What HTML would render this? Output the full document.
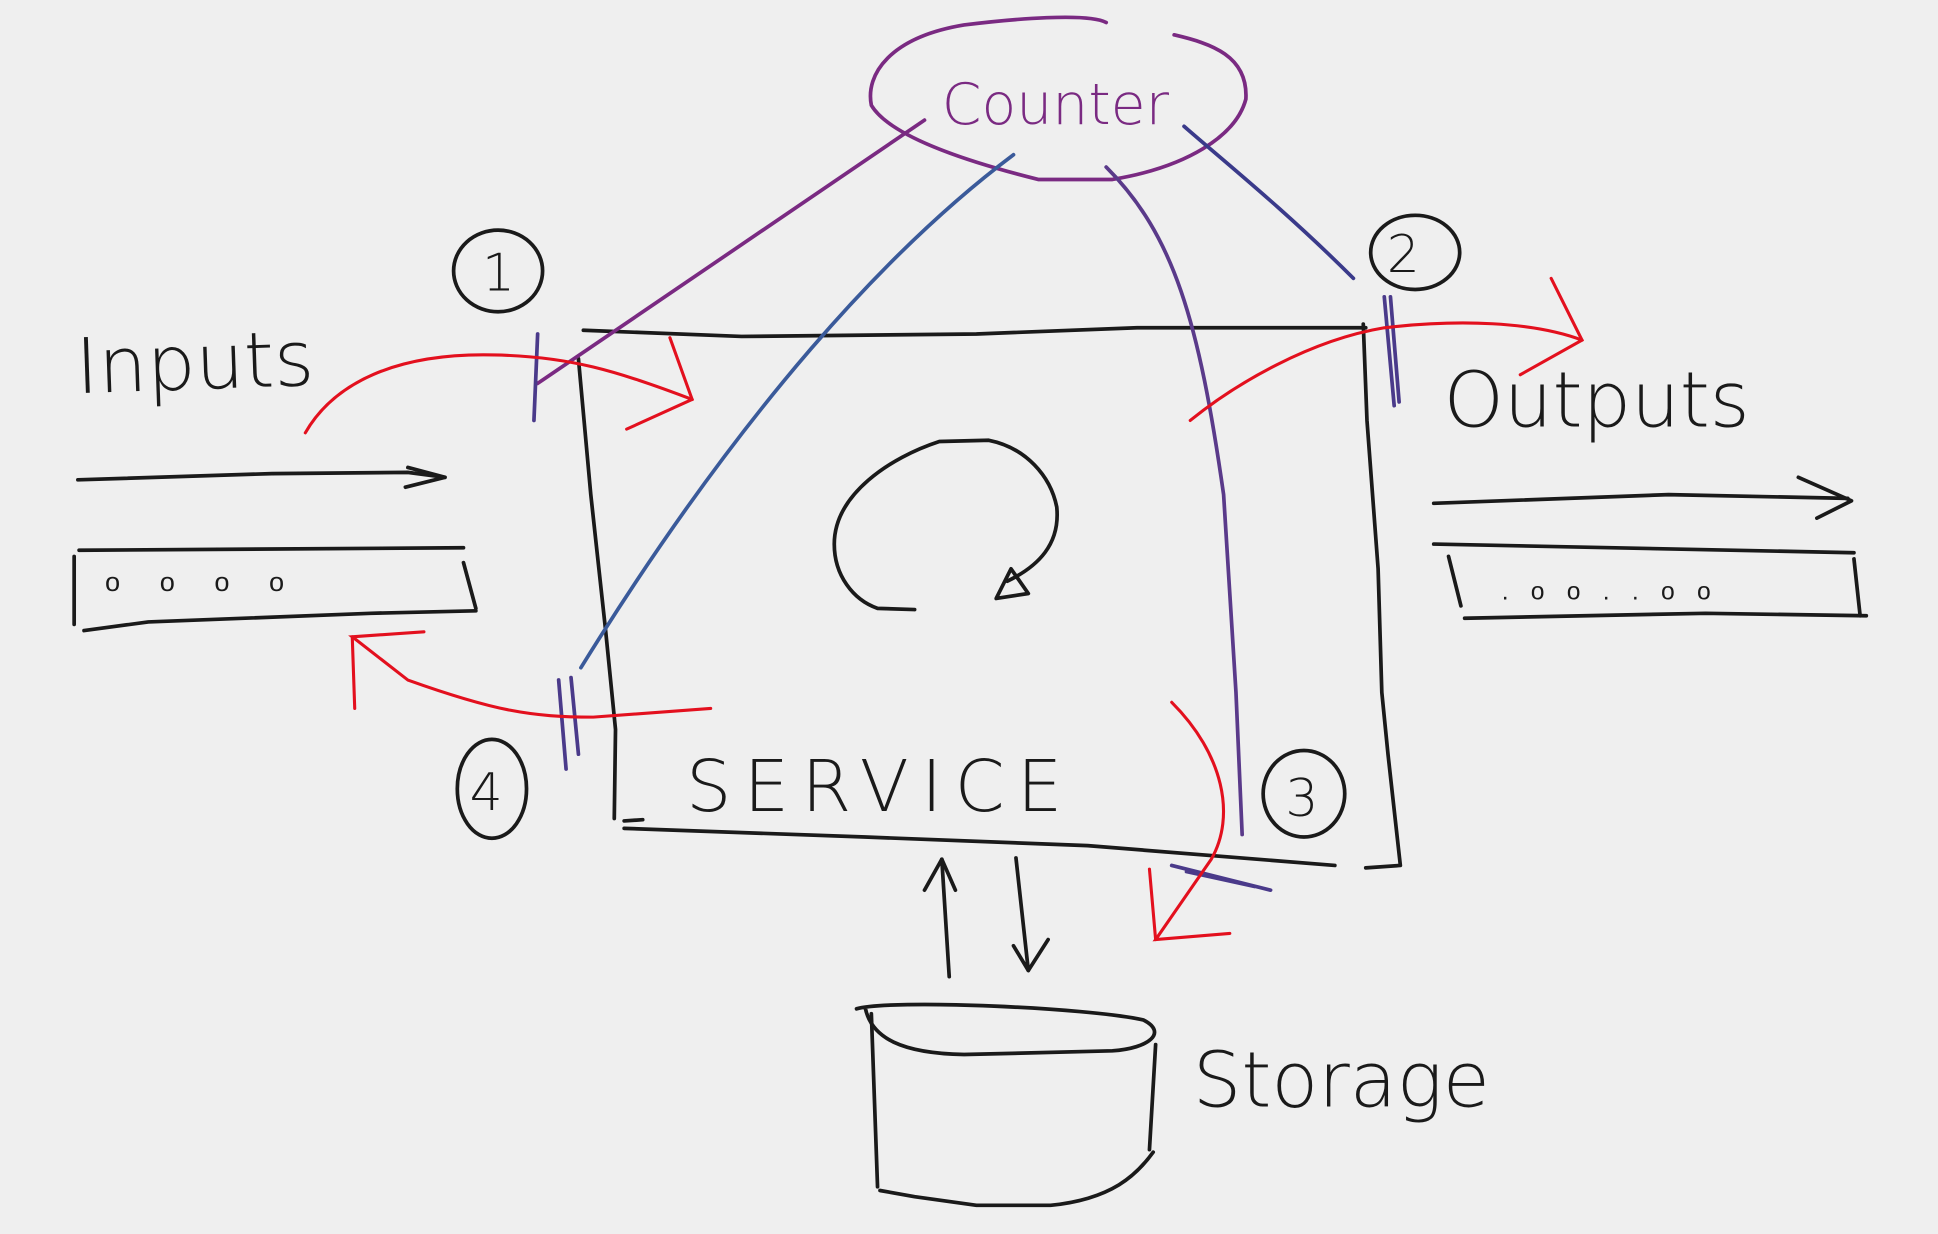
<!DOCTYPE html>
<html><head><meta charset="utf-8"><style>
html,body{margin:0;padding:0;background:#efefef;}
svg{display:block}
text{font-family:"Liberation Sans",sans-serif;}
</style></head><body>
<svg width="1938" height="1234" viewBox="0 0 1568 998" xmlns="http://www.w3.org/2000/svg">
<rect width="1568" height="998" fill="#efefef"/>
<g fill="none" stroke="#1a1a1a" stroke-width="3" stroke-linecap="round" stroke-linejoin="round">
<!-- service box -->
<path d="M472 267 L600 272 L790 270 L920 265 L1105 265"/>
<path d="M468 290 L478 400 L490 510 L498 590 L497 662"/>
<path d="M505 670 L700 677 L880 684 L1080 700"/>
<path d="M1103 262 L1106 340 L1115 460 L1118 560 L1123 610 L1133 700 L1105 702"/>
<path d="M505 664 L520 663"/>
<!-- loop -->
<path d="M740 493 L710 492 C690 485 675 465 675 440 C675 400 720 370 760 357 L800 356 C830 362 850 385 855 410 C858 440 840 458 815 470"/>
<path d="M806 484 L818 460 L832 480 Z"/>
<!-- circles -->
<ellipse cx="403" cy="219" rx="36" ry="33"/>
<ellipse cx="1145" cy="204" rx="36" ry="30"/>
<ellipse cx="398" cy="638" rx="28" ry="40"/>
<ellipse cx="1055" cy="642" rx="33" ry="35"/>
<!-- inputs arrow/bar -->
<path d="M63 388 L220 383 L330 382 L360 386"/>
<path d="M330 378 L360 386 L328 394"/>
<path d="M64 445 L375 443"/><path d="M60 450 L60 505"/><path d="M375 455 L385 492"/>
<path d="M68 510 L120 503 L300 496 L385 494"/>
<!-- outputs arrow/bar -->
<path d="M1160 407 L1350 400 L1495 403"/>
<path d="M1455 386 L1498 405 L1470 419"/>
<path d="M1160 440 L1500 447"/><path d="M1172 450 L1182 490"/><path d="M1500 452 L1505 498"/>
<path d="M1185 500 L1380 496 L1510 498"/>
<!-- storage -->
<path d="M693 816 C720 808 880 815 925 825 C945 835 930 848 900 850 L780 853 C730 852 705 840 700 815"/>
<path d="M705 820 L710 960"/><path d="M935 845 L930 930"/>
<path d="M712 963 L740 968 L790 975 L850 975 C900 970 920 950 933 932"/>
<!-- storage arrows -->
<path d="M768 790 L762 695 L748 720"/><path d="M762 695 L773 720"/>
<path d="M822 694 L832 785 L820 765"/><path d="M832 785 L848 760"/>
</g>
<g fill="#1a1a1a" font-size="58" font-family="Liberation Sans, sans-serif">
<text x="62" y="318" font-size="62" font-weight="300" transform="rotate(-2 60 318)" style="font-family:'DejaVu Sans',sans-serif;font-weight:200">Inputs</text>
<text x="1168" y="345" font-size="62" style="font-family:'DejaVu Sans',sans-serif;font-weight:200">Outputs</text>
<text x="555" y="656" font-size="58" letter-spacing="10" style="font-family:'DejaVu Sans',sans-serif;font-weight:200">SERVICE</text>
<text x="965" y="895" font-size="62" style="font-family:'DejaVu Sans',sans-serif;font-weight:200">Storage</text>
<text x="390" y="235" font-size="42" style="font-family:'DejaVu Sans',sans-serif;font-weight:200">1</text>
<text x="1122" y="220" font-size="42" style="font-family:'DejaVu Sans',sans-serif;font-weight:200">2</text>
<text x="380" y="655" font-size="42" style="font-family:'DejaVu Sans',sans-serif;font-weight:200">4</text>
<text x="1040" y="660" font-size="42" style="font-family:'DejaVu Sans',sans-serif;font-weight:200">3</text>
<text x="85" y="478" font-size="22" letter-spacing="32">oooo</text>
<text x="1215" y="485" font-size="20" letter-spacing="18">.oo..oo</text>
</g>
<!-- counter -->
<g fill="none" stroke="#7a2a82" stroke-width="3" stroke-linecap="round">
<path d="M895 18 C880 10 820 15 780 20 C720 30 700 60 705 85 C720 110 780 130 840 145 L900 145 C960 135 1000 110 1008 80 C1010 45 980 35 950 28"/>
<path d="M748 97 L435 310"/>
<path d="M820 125 C720 200 600 330 470 540" stroke="#3a5a9a"/>
<path d="M895 135 C950 190 970 260 990 400 L1000 560 L1005 675" stroke="#5a3a8a"/>
<path d="M958 102 C990 130 1040 170 1095 225" stroke="#3a3a8a"/>
<path d="M435 270 L432 340 M1120 240 L1128 328 M1125 240 L1132 325 M452 550 L458 622 M462 548 L468 610 M948 700 L1028 720 M960 705 L1015 717" stroke="#4a3a8a"/>
</g>
<text x="762" y="100" fill="#7a2a82" font-size="46" style="font-family:'DejaVu Sans',sans-serif;font-weight:200">Counter</text>
<!-- red -->
<g fill="none" stroke="#e3101e" stroke-width="2.5" stroke-linecap="round">
<path d="M247 350 C270 310 320 285 400 287 C460 288 500 300 560 323"/>
<path d="M542 273 L560 323 L507 347"/>
<path d="M963 340 C1000 310 1060 275 1120 265 C1180 258 1240 260 1280 275"/>
<path d="M1255 225 L1280 275 L1230 303"/>
<path d="M575 573 L480 580 C430 580 400 575 330 550 L285 515 L343 511"/>
<path d="M285 515 L287 573"/>
<path d="M948 568 C990 610 1000 660 980 695 L935 760 L995 755"/>
<path d="M935 760 L930 703"/>
</g>
</svg>
</body></html>
